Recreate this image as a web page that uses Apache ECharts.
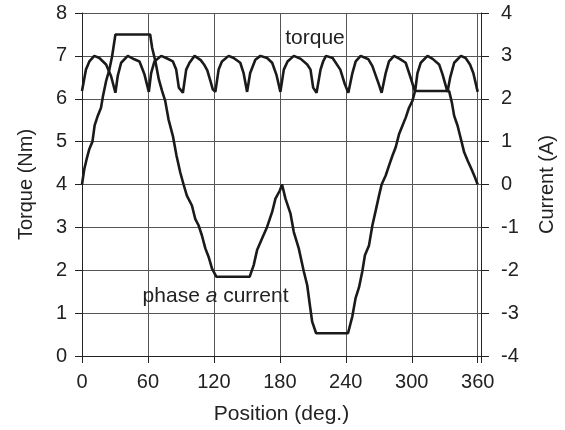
<!DOCTYPE html>
<html><head><meta charset="utf-8">
<script src="https://cdn.jsdelivr.net/npm/echarts@6/dist/echarts.min.js"></script>
<style>html,body{margin:0;padding:0;background:#fff}#c{width:565px;height:430px}</style>
</head><body><div id="c"></div>
<script>
// Position (deg.) and torque (Nm)
var torqueX = [0,1.2,3.6,6.7,11.2,15.8,21.9,26.4,30.4,32.5,35.6,41.6,47.6,52.3,56.8,60.8,62.9,65.9,72,76.6,82.7,85.7,88.1,91.8,94.8,97.8,102.4,108,111,114,117,119,121.3,124.3,127.3,133.4,138,144,147,150.2,153,157.7,162.3,168.4,173,177,180.5,183.6,187,192.7,199,204.9,207.9,210.3,213.4,217,219.5,222,228,235,239,242.3,246,249,253.5,260.6,264.2,269.6,272.6,276.3,279.3,283.9,289,294.5,299,303,305.2,308.2,314.3,319,324.9,328,332.5,335,338.6,344.7,349,353,356,360];
var torqueY = [6.18,6.2,6.68,6.87,7.0,6.95,6.8,6.53,6.14,6.53,6.84,7.0,6.92,6.87,6.57,6.16,6.6,6.87,7.0,6.95,6.87,6.68,6.26,6.14,6.68,6.84,7.0,6.9,6.8,6.66,6.4,6.22,6.16,6.68,6.87,7.0,6.95,6.84,6.6,6.16,6.6,6.91,7.0,6.95,6.84,6.55,6.16,6.68,6.87,7.0,6.93,6.8,6.68,6.26,6.14,6.68,6.88,7.0,6.95,6.68,6.35,6.14,6.6,6.87,7.0,6.92,6.76,6.37,6.14,6.6,6.87,7.0,6.93,6.84,6.49,6.16,6.6,6.84,7.0,6.93,6.8,6.57,6.16,6.5,6.84,7.0,6.95,6.8,6.6,6.16];
// Position (deg.) and phase a current (A)
var currentX = [0,2,4.3,6.7,9.5,11.5,14.3,17.3,19,21.9,24.9,27.4,30.4,62,63.8,66.8,69.9,72.9,75.7,78.7,82.7,86,89.4,92.4,95.4,100,103,106,109.1,112.2,115.2,118.3,122.2,152.6,156.2,159.3,163.8,168.4,173,176,180,182,185.1,189.7,192.7,197.2,201.8,204.9,207.3,209.4,213,242,245.9,248.9,252,255,257.4,261.1,264.2,267.2,270.2,272.6,276.3,279.3,282.4,285.4,288.4,291.5,294.5,297.5,300.6,303,334,336.5,338.6,341.7,344.7,347.7,351,354,357,360];
var currentY = [0,0.35,0.6,0.83,1.0,1.38,1.6,1.79,2.05,2.41,2.68,2.99,3.5,3.5,3.19,2.87,2.45,2.18,1.95,1.52,1.13,0.67,0.28,0,-0.26,-0.49,-0.8,-0.95,-1.19,-1.49,-1.69,-1.96,-2.15,-2.15,-1.88,-1.53,-1.26,-0.99,-0.64,-0.33,-0.14,0,-0.33,-0.68,-1.11,-1.49,-2.03,-2.35,-2.81,-3.2,-3.47,-3.47,-3.08,-2.65,-2.4,-2.03,-1.65,-1.42,-0.95,-0.61,-0.26,0,0.21,0.44,0.67,0.87,1.17,1.37,1.56,1.79,1.95,2.18,2.18,1.91,1.6,1.37,1.06,0.75,0.55,0.38,0.2,0];
var xTicks = [0,60,120,180,240,300,360];
var torqueTicks = [0,1,2,3,4,5,6,7,8];
var currentTicks = [-4,-3,-2,-1,0,1,2,3,4];

var FONT = 'Liberation Sans';
var TXT = '#222';
function pairs(xs, ys){ return xs.map(function(x,i){ return [x, ys[i]]; }); }

var chart = echarts.init(document.getElementById('c'), null, {renderer:'canvas'});
chart.setOption({
  animation:false,
  backgroundColor:'#fff',
  grid:{left:82,right:84,top:13,bottom:72},
  xAxis:{type:'value',min:0,max:363,interval:60,
    name:'Position (deg.)',nameLocation:'middle',nameGap:48,
    nameTextStyle:{fontFamily:FONT,fontSize:21,color:TXT},
    axisLine:{lineStyle:{color:'#222',width:1}},
    axisTick:{show:true,inside:false,length:7,lineStyle:{color:'#222'}},
    axisLabel:{fontFamily:FONT,fontSize:20,color:TXT,margin:16,
      formatter:function(v){ return xTicks.indexOf(v)>=0 ? String(v) : ''; }},
    splitLine:{show:true,lineStyle:{color:'#555',width:1}}},
  yAxis:[
    {type:'value',min:torqueTicks[0],max:torqueTicks[torqueTicks.length-1],interval:1,position:'left',
      name:'Torque (Nm)',nameLocation:'middle',nameGap:46,nameRotate:90,
      nameTextStyle:{fontFamily:FONT,fontSize:20,color:TXT},
      axisLine:{show:true,lineStyle:{color:'#222',width:1}},
      axisTick:{show:true,inside:false,length:7,lineStyle:{color:'#222'}},
      axisLabel:{fontFamily:FONT,fontSize:20,color:TXT,margin:15},
      splitLine:{show:true,lineStyle:{color:'#555',width:1}}},
    {type:'value',min:currentTicks[0],max:currentTicks[currentTicks.length-1],interval:1,position:'right',
      name:'Current (A)',nameLocation:'middle',nameGap:56,nameRotate:90,
      nameTextStyle:{fontFamily:FONT,fontSize:20,color:TXT},
      axisLine:{show:true,lineStyle:{color:'#222',width:1}},
      axisTick:{show:true,inside:false,length:8,lineStyle:{color:'#222'}},
      axisLabel:{fontFamily:FONT,fontSize:20,color:TXT,margin:20},
      splitLine:{show:false}}
  ],
  series:[
    {type:'line',name:'torque',yAxisIndex:0,data:pairs(torqueX,torqueY),showSymbol:false,symbol:'none',
      lineStyle:{color:'#1a1a1a',width:2.6},
      markPoint:{symbol:'circle',symbolSize:0,silent:true,
        data:[{coord:[212,7.42],label:{show:true,position:'inside',formatter:'torque',fontFamily:FONT,fontSize:21,color:TXT}}]}},
    {type:'line',name:'phase a current',yAxisIndex:1,data:pairs(currentX,currentY),showSymbol:false,symbol:'none',
      lineStyle:{color:'#1a1a1a',width:2.6},
      markPoint:{symbol:'circle',symbolSize:0,silent:true,
        data:[{coord:[121.5,-2.6],label:{show:true,position:'inside',
          formatter:'{n|phase }{i|a}{n| current}',
          rich:{n:{fontFamily:FONT,fontSize:21,color:TXT},i:{fontFamily:FONT,fontSize:21,fontStyle:'italic',color:TXT}}}}]}}
  ]
});
</script></body></html>
